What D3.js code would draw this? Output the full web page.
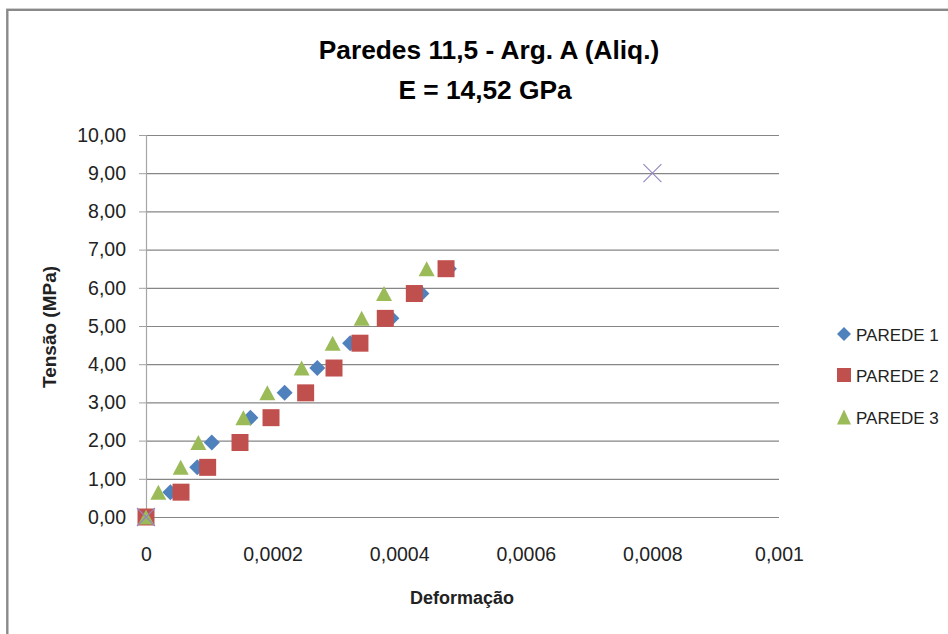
<!DOCTYPE html>
<html><head><meta charset="utf-8">
<script src="https://cdn.jsdelivr.net/npm/d3@7"></script>
<style>html,body{margin:0;padding:0;background:#fff;}svg{display:block;}</style>
</head><body>
<svg id="c" width="948" height="634"></svg>
<script>
const title1 = "Paredes 11,5 - Arg. A (Aliq.)";
const title2 = "E = 14,52 GPa";
const xTitle = "Deformação";
const yTitle = "Tensão (MPa)";
const yTicks = [0,1,2,3,4,5,6,7,8,9,10];
const xTicks = [0,0.0002,0.0004,0.0006,0.0008,0.001];
const xTickLabels = ["0","0,0002","0,0004","0,0006","0,0008","0,001"];
const seriesNames = ["PAREDE 1","PAREDE 2","PAREDE 3"];
const tensao = [0,0.65,1.30,1.95,2.60,3.25,3.90,4.55,5.20,5.85,6.50];
const parede1 = [0,0.0000385,0.0000810,0.0001040,0.0001650,0.0002190,0.0002706,0.0003225,0.0003876,0.0004350,0.0004785];
const parede2 = [0,0.0000553,0.0000974,0.0001485,0.0001975,0.0002522,0.0002970,0.0003380,0.0003780,0.0004239,0.0004740];
const parede3 = [0,0.0000195,0.0000548,0.0000827,0.0001538,0.0001917,0.0002459,0.0002949,0.0003407,0.0003760,0.0004434];
const refX = [0,0.0008];
const refY = [0,9];

const svg = d3.select("#c");
const x = d3.scaleLinear().domain([0,0.001]).range([146,779]);
const y = d3.scaleLinear().domain([0,10]).range([517,135]);
const FONT = "'Liberation Sans', Arial, sans-serif";
const colors = ["#4F81BD","#C0504D","#9BBB59"];

// frame
svg.append("rect").attr("x",7.3).attr("y",9.8).attr("width",1100).attr("height",800)
  .attr("fill","none").attr("stroke","#898989").attr("stroke-width",2.4);

// title
svg.append("text").attr("x",489).attr("y",58.5).attr("text-anchor","middle")
  .attr("font-family",FONT).attr("font-weight","bold").attr("font-size",26.3).attr("fill","#000").text(title1);
svg.append("text").attr("x",485).attr("y",98.5).attr("text-anchor","middle")
  .attr("font-family",FONT).attr("font-weight","bold").attr("font-size",26.3).attr("fill","#000").text(title2);

// gridlines + y labels
const yAxis = d3.axisLeft(y).tickValues(yTicks).tickSize(-(779-146)).tickPadding(20)
  .tickFormat(d => d3.format(".2f")(d).replace(".",","));
const gy = svg.append("g").attr("transform","translate(146,0)").call(yAxis);
gy.select(".domain").remove();
gy.selectAll(".tick line").attr("stroke","#868686").attr("stroke-width",1.2);
gy.selectAll(".tick").append("line").attr("x1",-7).attr("x2",0).attr("stroke","#a0a0a0");
gy.selectAll(".tick text").attr("font-family",FONT).attr("font-size",19.5).attr("fill","#222");

// y axis line
svg.append("line").attr("x1",146.5).attr("x2",146.5).attr("y1",y(10)).attr("y2",y(0))
  .attr("stroke","#a6a6a6").attr("stroke-width",1.2);

// x axis labels
const xAxis = d3.axisBottom(x).tickValues(xTicks).tickSize(0).tickPadding(30)
  .tickFormat((d,i) => xTickLabels[i]);
const gx = svg.append("g").attr("transform",`translate(0,${y(0)})`).call(xAxis);
gx.select(".domain").remove();
gx.selectAll(".tick text").attr("font-family",FONT).attr("font-size",19.5).attr("fill","#222");

// axis titles
svg.append("text").attr("x",462).attr("y",604).attr("text-anchor","middle")
  .attr("font-family",FONT).attr("font-weight","bold").attr("font-size",18).attr("fill","#222").text(xTitle);
svg.append("text").attr("transform","translate(56,327) rotate(-90)").attr("text-anchor","middle")
  .attr("font-family",FONT).attr("font-weight","bold").attr("font-size",19).attr("fill","#222").text(yTitle);

// marker shapes
function diamond(s){const h=s/2;return `M0,${-h}L${h},0L0,${h}L${-h},0Z`;}
function square(s){const h=s/2;return `M${-h},${-h}H${h}V${h}H${-h}Z`;}
function triangle(w,hh){return `M0,${-hh/2}L${w/2},${hh/2}L${-w/2},${hh/2}Z`;}
const shapes = [diamond(16), square(17), triangle(16,15)];
const series = [parede1, parede2, parede3];

const plot = svg.append("g");
series.forEach((xs,si)=>{
  plot.append("g").selectAll("path").data(xs.map((v,i)=>[v,tensao[i]])).join("path")
    .attr("transform",d=>`translate(${x(d[0])},${y(d[1])})`)
    .attr("d",shapes[si]).attr("fill",colors[si]);
});
// reference X markers
plot.append("g").selectAll("path").data(refX.map((v,i)=>[v,refY[i]])).join("path")
  .attr("transform",d=>`translate(${x(d[0])},${y(d[1])})`)
  .attr("d","M-9,-9L9,9M9,-9L-9,9").attr("stroke","#9585c2").attr("stroke-width",1.1).attr("fill","none");

// legend
const legShapes = [diamond(14), square(14), triangle(14,15)];
const legY = [334,375,417];
seriesNames.forEach((n,i)=>{
  svg.append("path").attr("transform",`translate(844,${legY[i]})`).attr("d",legShapes[i]).attr("fill",colors[i]);
  svg.append("text").attr("x",856).attr("y",legY[i]+6.5).attr("font-family",FONT).attr("font-size",17)
    .attr("fill","#222").text(n);
});
</script>
</body></html>
